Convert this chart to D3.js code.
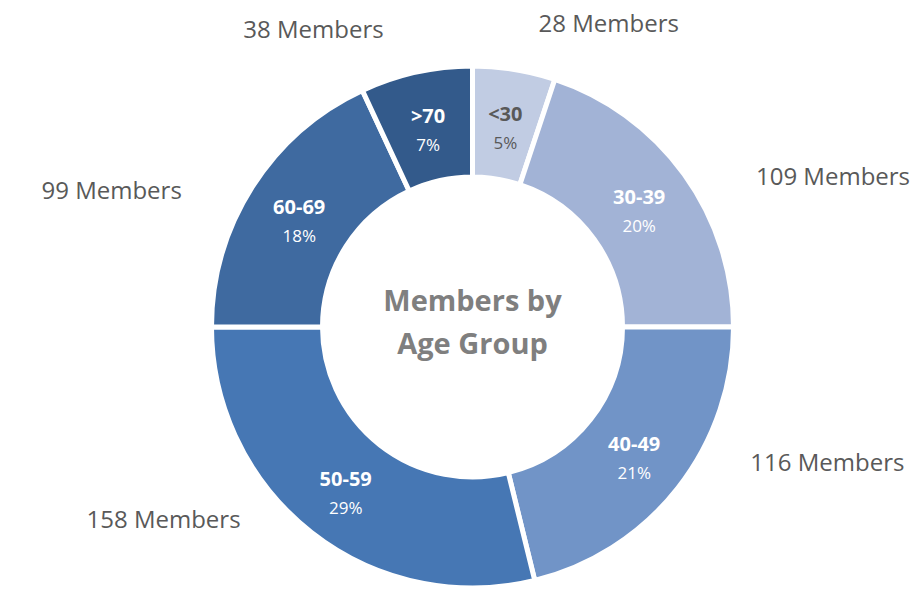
<!DOCTYPE html>
<html>
<head>
<meta charset="utf-8">
<script src="https://cdn.jsdelivr.net/npm/d3@7"></script>
<style>
  body { margin: 0; background: #fff; }
  text { font-family: "Open Sans", sans-serif; }
</style>
</head>
<body>
<svg class="chart"></svg>
<script>

var ageGroups = ["<30", "30-39", "40-49", "50-59", "60-69", ">70"];
var memberCounts = [28, 109, 116, 158, 99, 38];
var sliceColors = ["#c1cce3", "#a2b3d6", "#7194c7", "#4677b4", "#3f6aa0", "#335a8b"];
var titleLines = ["Members by", "Age Group"];

var width = 916, height = 591;
var cx = 472.5, cy = 327; // Centre of the donut.
var outerRadius = 261, innerRadius = 150;

var svg = d3.select("svg.chart")
    .attr("width", width)
    .attr("height", height);

var total = d3.sum(memberCounts);

var pie = d3.pie()
    .sort(null) // Keep the order clockwise from 12 o'clock.
    .value(function (d) { return d; });

var arcs = pie(memberCounts);

var arc = d3.arc()
    .innerRadius(innerRadius)
    .outerRadius(outerRadius);

var labelArc = d3.arc() // Labels inside the ring sit on the middle radius.
    .innerRadius((innerRadius + outerRadius) / 2)
    .outerRadius((innerRadius + outerRadius) / 2);

var g = svg.append("g")
    .attr("transform", "translate(" + cx + "," + cy + ")");

g.selectAll("path.slice")
    .data(arcs)
    .enter()
    .append("path")
        .attr("class", "slice")
        .attr("d", arc)
        .attr("fill", function (d, i) { return sliceColors[i]; })
        .attr("stroke", "#fff")
        .attr("stroke-width", 5)
        .attr("stroke-linejoin", "miter");

// Category + percentage inside each slice.
var inner = g.selectAll("g.inner")
    .data(arcs)
    .enter()
    .append("g")
        .attr("class", "inner")
        .attr("transform", function (d) {
            var c = labelArc.centroid(d);
            return "translate(" + c[0] + "," + c[1] + ")";
        });

inner.append("text")
    .attr("text-anchor", "middle")
    .attr("y", -3)
    .attr("font-size", 20)
    .attr("font-weight", "bold")
    .attr("fill", function (d, i) { return i === 0 ? "#595959" : "#fff"; })
    .text(function (d, i) { return ageGroups[i]; });

inner.append("text")
    .attr("text-anchor", "middle")
    .attr("y", 25)
    .attr("font-size", 17)
    .attr("fill", function (d, i) { return i === 0 ? "#595959" : "#fff"; })
    .text(function (d) { return Math.round(d.value / total * 100) + "%"; });

// Member counts outside the ring, pulled a little toward the horizontal.
var outerLabelRadius = 320;

g.selectAll("text.outer")
    .data(arcs)
    .enter()
    .append("text")
        .attr("class", "outer")
        .attr("font-size", 24)
        .attr("fill", "#595959")
        .attr("dominant-baseline", "middle")
        .each(function (d) {
            var mid = (d.startAngle + d.endAngle) / 2;
            var a = mid + 0.15 * Math.sin(2 * mid);
            var x = outerLabelRadius * Math.sin(a);
            var y = -outerLabelRadius * 0.93 * Math.cos(a) - 10;
            d3.select(this)
                .attr("x", x)
                .attr("y", y)
                .attr("text-anchor", x >= 0 ? "start" : "end");
        })
        .text(function (d) { return d.value + " Members"; });

// Title in the hole.
g.selectAll("text.title")
    .data(titleLines)
    .enter()
    .append("text")
        .attr("class", "title")
        .attr("text-anchor", "middle")
        .attr("y", function (d, i) { return -16 + i * 43; })
        .attr("font-size", 29)
        .attr("font-weight", "bold")
        .attr("fill", "#7f7f7f")
        .text(function (d) { return d; });

</script>
</body>
</html>
